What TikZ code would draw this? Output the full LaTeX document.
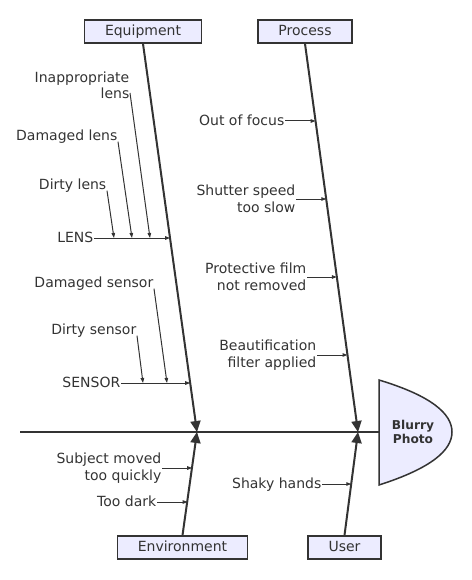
\documentclass[tikz,border=0pt]{standalone}
\usepackage{fontspec}
\setmainfont{DejaVu Sans}
\usetikzlibrary{arrows.meta}
\definecolor{ink}{HTML}{333333}
\definecolor{boxfill}{HTML}{ECECFF}
\begin{document}
\begin{tikzpicture}[x=1pt,y=-1pt,font=\fontsize{14}{16.5}\selectfont,text=ink]
    \tikzstyle{cat node}=[draw=ink,fill=boxfill,line width=1.5pt,inner xsep=20.5pt,minimum height=23pt,text height=10pt,text depth=2pt]
    \tikzstyle{cause}=[anchor=east,inner xsep=0.5pt,inner ysep=0pt,text height=10pt,text depth=1pt]
    \tikzstyle{causes}=[anchor=east,inner xsep=0.5pt,inner ysep=0pt,align=right]
    \tikzstyle{bone}=[draw=ink,line width=2pt,-{Triangle[length=11pt,width=10pt]}]
    \tikzstyle{twig}=[draw=ink,line width=1pt,-{Triangle[length=5pt,width=3.5pt]}]
    \useasboundingbox (0,0) rectangle (471,580);

    % head and spine
    \draw[draw=ink,fill=boxfill,line width=1.5pt] (379,380) .. controls (432,396) and (452,414) .. (452,432)
        .. controls (452,450) and (432,468) .. (379,485) -- cycle;
    \node(head)[font=\fontsize{12.2}{14.5}\selectfont\bfseries,align=center] at (413,432) {Blurry\\Photo};
    \coordinate(tail) at (20,432);
    \coordinate(mouth) at (379,432);
    \draw[draw=ink,line width=2pt] (tail) -- (mouth);

    % categories
    \node(equip)[cat node] at (143,31.5) {Equipment};
    \node(process)[cat node] at (305,31.5) {Process};
    \node(env)[cat node] at (182.5,547.5) {Environment};
    \node(user)[cat node] at (344.5,547.5) {User};
    \coordinate(tipA) at (197,432);
    \coordinate(tipB) at (358,432);
    \draw[bone] (equip.south) -- (tipA);
    \draw[bone] (process.south) -- (tipB);
    \draw[bone] (env.north) -- (tipA);
    \draw[bone] (user.north) -- (tipB);

    % equipment
    \node(lens)[cause] at (94,238) {LENS};
    \node(inapp)[causes,anchor=south east] at (130,99) {Inappropriate\\lens};
    \node(dmglens)[cause] at (118,136) {Damaged lens};
    \node(dirtylens)[cause] at (107,185) {Dirty lens};
    \coordinate(lensP) at (170.1,238);
    \coordinate(inappP) at (150,238);
    \coordinate(dmglensP) at (132,238);
    \coordinate(dirtylensP) at (114,238);
    \draw[twig] (lens.east) -- (lensP);
    \draw[twig] ([yshift=6pt]inapp.south east) -- (inappP);
    \draw[twig] (dmglens.south east) -- (dmglensP);
    \draw[twig] (dirtylens.south east) -- (dirtylensP);

    \node(sensor)[cause] at (121,383) {SENSOR};
    \node(dmgsensor)[cause] at (154,283) {Damaged sensor};
    \node(dirtysensor)[cause] at (137,330) {Dirty sensor};
    \coordinate(sensorP) at (190.2,383);
    \coordinate(dmgsensorP) at (167,383);
    \coordinate(dirtysensorP) at (143,383);
    \draw[twig] (sensor.east) -- (sensorP);
    \draw[twig] (dmgsensor.south east) -- (dmgsensorP);
    \draw[twig] (dirtysensor.south east) -- (dirtysensorP);

    % process
    \node(focus)[cause] at (285,121) {Out of focus};
    \node(shutter)[causes] at (296,199) {Shutter speed\\too slow};
    \node(film)[causes] at (307,277) {Protective film\\not removed};
    \node(beauty)[causes] at (317,355) {Beautification\\filter applied};
    \coordinate(focusP) at (315.6,121);
    \coordinate(shutterP) at (326.3,199);
    \coordinate(filmP) at (336.9,277);
    \coordinate(beautyP) at (347.5,355);
    \draw[twig] (focus.east) -- (focusP);
    \draw[twig] (shutter.east) -- (shutterP);
    \draw[twig] (film.east) -- (filmP);
    \draw[twig] (beauty.east) -- (beautyP);

    % environment and user
    \node(subject)[causes] at (162,468) {Subject moved\\too quickly};
    \node(dark)[cause] at (157,502) {Too dark};
    \node(shaky)[cause] at (322,484) {Shaky hands};
    \coordinate(subjectP) at (192.2,468);
    \coordinate(darkP) at (187.6,502);
    \coordinate(shakyP) at (351.3,484);
    \draw[twig] (subject.east) -- (subjectP);
    \draw[twig] (dark.east) -- (darkP);
    \draw[twig] (shaky.east) -- (shakyP);
\end{tikzpicture}
\end{document}
